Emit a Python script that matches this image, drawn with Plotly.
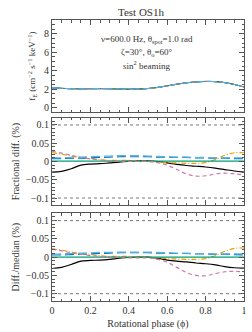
import plotly.graph_objects as go

phase = [0.0, 0.05, 0.1, 0.15, 0.2, 0.25, 0.3, 0.35, 0.4, 0.45, 0.5, 0.55, 0.6, 0.65, 0.7, 0.75, 0.8, 0.85, 0.9, 0.95, 1.0]

flux = [2.15, 2.1, 2.06, 2.05, 2.06, 2.07, 2.06, 2.03, 2.01, 2.02, 2.08, 2.2, 2.37, 2.55, 2.7, 2.8, 2.85, 2.83, 2.72, 2.52, 2.25]

names = ["black", "orange", "blue", "green", "pink", "skyblue"]
colors = ["#000000", "#E69F00", "#0072B2", "#009E73", "#CC79A7", "#56B4E9"]
dashes = ["solid", "5px,2px,1px,2px", "9px,4px", "solid", "4px,3px", "9px,4px"]

frac = {
    "black":   [-0.029, -0.027, -0.02, -0.01, -0.007, -0.006, -0.004, -0.002, 0.001, 0.002, 0.002, 0.0, -0.004, -0.008, -0.011, -0.013, -0.015, -0.018, -0.022, -0.026, -0.029],
    "orange":  [0.024, 0.02, 0.015, 0.011, 0.008, 0.005, 0.003, 0.003, 0.003, 0.002, 0.001, -0.001, -0.003, -0.004, -0.005, -0.005, -0.003, 0.005, 0.017, 0.024, 0.024],
    "blue":    [0.008, 0.008, 0.009, 0.009, 0.01, 0.011, 0.012, 0.013, 0.013, 0.013, 0.013, 0.012, 0.012, 0.011, 0.011, 0.01, 0.01, 0.009, 0.009, 0.008, 0.008],
    "green":   [0.001, 0.001, 0.001, 0.001, 0.001, 0.001, 0.001, 0.001, 0.001, 0.001, 0.001, 0.001, 0.001, 0.001, 0.001, 0.001, 0.001, 0.001, 0.001, 0.001, 0.001],
    "pink":    [0.028, 0.023, 0.017, 0.011, 0.007, 0.004, 0.002, 0.001, 0.0, 0.0, 0.0, -0.003, -0.01, -0.022, -0.034, -0.04, -0.039, -0.034, -0.032, -0.034, -0.037],
    "skyblue": [0.01, 0.01, 0.011, 0.012, 0.013, 0.014, 0.015, 0.016, 0.016, 0.016, 0.015, 0.014, 0.013, 0.012, 0.012, 0.011, 0.011, 0.01, 0.01, 0.01, 0.01],
}

diffmed = {
    "black":   [-0.031, -0.028, -0.02, -0.011, -0.009, -0.008, -0.006, -0.003, -0.001, 0.0, 0.0, -0.003, -0.008, -0.011, -0.013, -0.016, -0.018, -0.021, -0.026, -0.029, -0.03],
    "orange":  [0.023, 0.019, 0.014, 0.01, 0.007, 0.004, 0.002, 0.002, 0.002, 0.001, 0.0, -0.002, -0.004, -0.005, -0.006, -0.006, -0.004, 0.004, 0.016, 0.024, 0.025],
    "blue":    [0.006, 0.006, 0.007, 0.008, 0.009, 0.01, 0.011, 0.012, 0.012, 0.012, 0.012, 0.011, 0.011, 0.01, 0.01, 0.009, 0.009, 0.008, 0.008, 0.007, 0.006],
    "green":   [0.0, 0.0, 0.0, 0.0, 0.0, 0.0, 0.0, 0.0, 0.0, 0.0, 0.0, 0.0, 0.0, 0.0, 0.0, 0.0, 0.0, 0.0, 0.0, 0.0, 0.0],
    "pink":    [0.022, 0.017, 0.012, 0.008, 0.004, 0.002, 0.0, -0.001, -0.002, -0.002, -0.002, -0.006, -0.014, -0.028, -0.042, -0.05, -0.051, -0.045, -0.04, -0.039, -0.04],
    "skyblue": [0.008, 0.009, 0.01, 0.011, 0.012, 0.013, 0.013, 0.014, 0.014, 0.014, 0.014, 0.013, 0.012, 0.011, 0.011, 0.01, 0.01, 0.009, 0.009, 0.009, 0.009],
}

FONT = "Liberation Serif"
TXT = "#333333"
AX = "#555555"

fig = go.Figure()
for i, n in enumerate(names):
    fig.add_trace(go.Scatter(x=phase, y=flux, mode="lines", line=dict(color=colors[i], dash=dashes[i], width=1, shape="spline"),
                             xaxis="x", yaxis="y", showlegend=False))
for i, n in enumerate(names):
    fig.add_trace(go.Scatter(x=phase, y=frac[n], mode="lines", line=dict(color=colors[i], dash=dashes[i], width=1.2, shape="spline"),
                             xaxis="x2", yaxis="y2", showlegend=False))
for i, n in enumerate(names):
    fig.add_trace(go.Scatter(x=phase, y=diffmed[n], mode="lines", line=dict(color=colors[i], dash=dashes[i], width=1.2, shape="spline"),
                             xaxis="x3", yaxis="y3", showlegend=False))

# dotted +/-0.1 reference lines
for ax in ["x2", "x3"]:
    yref = "y2" if ax == "x2" else "y3"
    for v in [0.1, -0.1]:
        fig.add_shape(type="line", xref=ax + " domain", yref=yref, x0=0, x1=1, y0=v, y1=v,
                      line=dict(color="#777777", width=1, dash="dot"))

def d(ypx):
    return (302 - ypx) / 282

axcommon = dict(showline=True, linecolor=AX, linewidth=1, mirror="allticks", ticks="inside",
                tickcolor=AX, ticklen=5, showgrid=False, zeroline=False,
                tickfont=dict(family=FONT, size=10, color=TXT))

xcommon = dict(axcommon, range=[0, 1], dtick=0.2, tick0=0,
               minor=dict(ticks="inside", dtick=0.05, ticklen=2.5, tickcolor=AX))

fig.update_layout(
    width=252, height=332,
    margin=dict(l=52, r=5, t=20, b=30),
    paper_bgcolor="white", plot_bgcolor="white",
    xaxis=dict(xcommon, anchor="y", showticklabels=False),
    xaxis2=dict(xcommon, anchor="y2", showticklabels=False),
    xaxis3=dict(xcommon, anchor="y3", title=dict(text="Rotational phase (ϕ)", font=dict(family=FONT, size=10, color=TXT), standoff=4)),
    yaxis=dict(axcommon, domain=[d(112.7), 1.0], range=[-0.5, 9.5], dtick=2, tick0=0,
               minor=dict(ticks="inside", dtick=0.5, ticklen=2.5, tickcolor=AX),
               title=dict(text="f<sub>E</sub> (cm<sup>−2</sup> s<sup>−1</sup> keV<sup>−1</sup>)", font=dict(family=FONT, size=9, color=TXT), standoff=6)),
    yaxis2=dict(axcommon, domain=[d(206), d(118)], range=[-0.12, 0.12], dtick=0.05, tick0=0,
                minor=dict(ticks="inside", dtick=0.01, ticklen=2.5, tickcolor=AX),
                title=dict(text="Fractional diff. (%)", font=dict(family=FONT, size=10, color=TXT), standoff=4)),
    yaxis3=dict(axcommon, domain=[0, d(214)], range=[-0.12, 0.12], dtick=0.05, tick0=0,
                minor=dict(ticks="inside", dtick=0.01, ticklen=2.5, tickcolor=AX),
                title=dict(text="Diff./median (%)", font=dict(family=FONT, size=10, color=TXT), standoff=4)),
    annotations=[
        dict(text="Test OS1h", xref="paper", yref="paper", x=(142 - 52) / 195, y=1.0, yanchor="bottom", xanchor="center",
             showarrow=False, font=dict(family=FONT, size=11, color=TXT)),
        dict(text="ν=600.0 Hz, θ<sub>spot</sub>=1.0 rad", xref="paper", yref="paper", x=(148 - 52) / 195, y=d(32),
             showarrow=False, font=dict(family=FONT, size=9, color=TXT)),
        dict(text="ζ=30°, θ<sub>o</sub>=60°", xref="paper", yref="paper", x=(148 - 52) / 195, y=d(45),
             showarrow=False, font=dict(family=FONT, size=9, color=TXT)),
        dict(text="sin<sup>2</sup> beaming", xref="paper", yref="paper", x=(148 - 52) / 195, y=d(57),
             showarrow=False, font=dict(family=FONT, size=9, color=TXT)),
    ],
)

fig.write_html("out.html", config={"displayModeBar": False},
               post_script="document.body.style.margin='0';document.body.style.overflow='hidden';")
